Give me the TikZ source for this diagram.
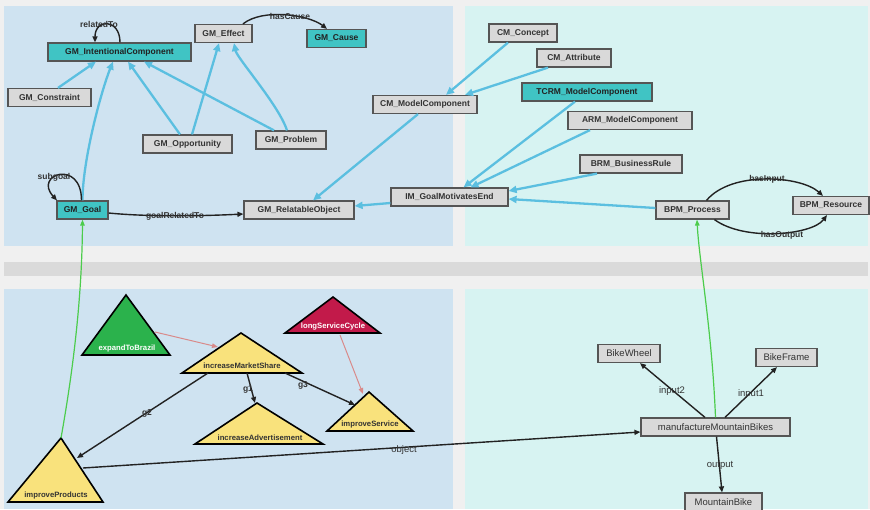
\documentclass[tikz,border=0pt]{standalone}
\usepackage{fontspec}
\setmainfont{Liberation Sans}
\usetikzlibrary{arrows.meta}
\definecolor{bgc}{HTML}{F0F0F0}
\definecolor{panelA}{HTML}{CFE3F1}
\definecolor{panelB}{HTML}{D7F3F2}
\definecolor{strip}{HTML}{DADADA}
\definecolor{grayfill}{HTML}{D9D9D9}
\definecolor{tealfill}{HTML}{40C4C4}
\definecolor{boxline}{HTML}{555555}
\definecolor{txt}{HTML}{333333}
\definecolor{bluel}{HTML}{5BBFE0}
\definecolor{greenl}{HTML}{4CCC4C}
\definecolor{pinkl}{HTML}{D98A8A}
\definecolor{yel}{HTML}{F9E27C}
\definecolor{grn}{HTML}{2BB24C}
\definecolor{crim}{HTML}{C21A4A}
\definecolor{blk}{HTML}{222222}
\begin{document}
\begin{tikzpicture}[x=1pt,y=-1pt,
 box/.style={draw=boxline, line width=1.2pt, fill=grayfill, minimum height=18pt, inner sep=1pt, font=\fontsize{8.5}{9}\selectfont\bfseries, text=txt},
 tbox/.style={box, fill=tealfill, text=blk},
 rbox/.style={box, font=\fontsize{9.5}{10}\selectfont},
 barrow/.style={draw=bluel, line width=2.3pt, -{Triangle[length=8pt,width=7pt]}},
 karrow/.style={draw=blk, line width=1.4pt, -{Triangle[length=6pt,width=5pt]}},
 garrow/.style={draw=greenl, line width=1.2pt, -{Triangle[length=6pt,width=4.5pt]}},
 parrow/.style={draw=pinkl, line width=1pt, -{Triangle[length=6pt,width=4.5pt]}},
 elabel/.style={font=\fontsize{8.5}{9}\selectfont\bfseries, text=txt, inner sep=0pt},
 rlabel/.style={font=\fontsize{9.5}{10}\selectfont, text=txt, inner sep=0pt},
 tri/.style={draw=black, line width=1.6pt, line join=miter},
 tlabel/.style={font=\fontsize{7.7}{8}\selectfont\bfseries, inner sep=0pt}]

\useasboundingbox (0,0) rectangle (870,509);
\fill[bgc] (0,0) rectangle (870,509);
\fill[panelA] (4,6) rectangle (453,246);
\fill[panelB] (465,6) rectangle (868,246);
\fill[strip] (4,262) rectangle (868,276);
\fill[panelA] (4,289) rectangle (453,509);
\fill[panelB] (465,289) rectangle (868,509);

% ---- top nodes
\node[tbox, minimum width=143pt] (ic) at (119.5,52) {GM\_IntentionalComponent};
\node[box, minimum width=57pt] (eff) at (223.5,33.5) {GM\_Effect};
\node[tbox, minimum width=59pt] (cause) at (336.5,38.5) {GM\_Cause};
\node[box, minimum width=83pt] (con) at (49.5,97.5) {GM\_Constraint};
\node[box, minimum width=89pt] (opp) at (187.5,144) {GM\_Opportunity};
\node[box, minimum width=70pt] (prob) at (291,140) {GM\_Problem};
\node[tbox, minimum width=51pt] (goal) at (82.5,210) {GM\_Goal};
\node[box, minimum width=110pt] (ro) at (299,210) {GM\_RelatableObject};
\node[box, minimum width=104pt] (cmmc) at (425,104.5) {CM\_ModelComponent};
\node[box, minimum width=68pt] (cmc) at (523,33) {CM\_Concept};
\node[box, minimum width=74pt] (cma) at (574,58) {CM\_Attribute};
\node[tbox, minimum width=130pt] (tcrm) at (587,92) {TCRM\_ModelComponent};
\node[box, minimum width=124pt] (arm) at (630,120.5) {ARM\_ModelComponent};
\node[box, minimum width=102pt] (brm) at (631,164) {BRM\_BusinessRule};
\node[box, minimum width=117pt] (im) at (449.5,197) {IM\_GoalMotivatesEnd};
\node[box, minimum width=73pt] (bpmp) at (692.5,210) {BPM\_Process};
\node[box, minimum width=76pt] (bpmr) at (831,205.5) {BPM\_Resource};

% ---- bottom right nodes
\node[rbox, minimum width=62pt] (bw) at (629,353.5) {BikeWheel};
\node[rbox, minimum width=61pt] (bf) at (786.5,357.5) {BikeFrame};
\node[rbox, minimum width=149pt] (mmb) at (715.5,427) {manufactureMountainBikes};
\node[rbox, minimum width=77pt] (mb) at (723.5,502) {MountainBike};

% ---- triangles
\draw[tri, fill=grn] (126,295) -- (170,355) -- (82,355) -- cycle;
\draw[tri, fill=yel] (241,333) -- (302,373) -- (182,373) -- cycle;
\draw[tri, fill=crim] (333,297) -- (380,333) -- (285,333) -- cycle;
\draw[tri, fill=yel] (369,392) -- (413,431) -- (327,431) -- cycle;
\draw[tri, fill=yel] (257,403) -- (323,444) -- (195,444) -- cycle;
\draw[tri, fill=yel] (61,438) -- (103,502) -- (8,502) -- cycle;
\node[tlabel, text=white] (ebl) at (127,349) {expandToBrazil};
\node[tlabel, text=txt] (imsl) at (242,366) {increaseMarketShare};
\node[tlabel, text=white] (lscl) at (333,327) {longServiceCycle};
\node[tlabel, text=txt] (isl) at (370,425) {improveService};
\node[tlabel, text=txt] (ial) at (260,438) {increaseAdvertisement};
\node[tlabel, text=txt] (ipl) at (56,496) {improveProducts};

\coordinate (eb-o) at (155,332);
\coordinate (ims-i) at (218,347);
\coordinate (lsc-o) at (340,335);
\coordinate (is-i) at (363,394);
\coordinate (ims-g2) at (208,373);
\coordinate (ims-g1) at (247,373);
\coordinate (ims-g3) at (285,373);
\coordinate (ip-i) at (77,458);
\coordinate (ia-i) at (255,403);
\coordinate (is-g3) at (355,405);
\coordinate (ip-o) at (83,468);
\coordinate (ip-apex) at (61,438);

% ---- blue arrows
\draw[barrow] ([xshift=8.5pt]con.north) -- ([xshift=-23.5pt]ic.south);
\draw[barrow] (goal.north) .. controls +(0,-40) and +(-12,30) .. ([xshift=-6.5pt]ic.south);
\draw[barrow] ([xshift=-7.5pt]opp.north) -- ([xshift=8.5pt]ic.south);
\draw[barrow] ([xshift=4.5pt]opp.north) -- ([xshift=-4.5pt]eff.south);
\draw[barrow] ([xshift=-17pt]prob.north) -- ([xshift=24.5pt]ic.south);
\draw[barrow] ([xshift=-4pt]prob.north) .. controls +(-8,-25) and +(3,15) .. ([xshift=10.5pt]eff.south);
\draw[barrow] ([xshift=-15pt]cmc.south) -- ([xshift=21pt]cmmc.north);
\draw[barrow] ([xshift=-26pt]cma.south) -- ([xshift=40pt]cmmc.north);
\draw[barrow] ([xshift=-7pt]cmmc.south) -- ([xshift=14pt]ro.north);
\draw[barrow] ([xshift=-12pt]tcrm.south) -- ([xshift=14pt]im.north);
\draw[barrow] ([xshift=-40pt]arm.south) -- ([xshift=21pt]im.north);
\draw[barrow] ([xshift=-34pt]brm.south) -- ([yshift=6pt]im.east);
\draw[barrow] ([yshift=2pt]bpmp.west) -- ([yshift=-2pt]im.east);
\draw[barrow] ([yshift=-6pt]im.west) -- ([yshift=4pt]ro.east);

% ---- black arrows top
\draw[karrow] ([xshift=0.5pt]ic.north) .. controls +(0,-24) and +(0,-24) .. ([xshift=-24.5pt]ic.north);
\node[elabel] (lrel) at (99,24) {relatedTo};
\draw[karrow] ([xshift=19.5pt]eff.north) .. controls +(20,-16) and +(-18,-14) .. ([xshift=-9.5pt]cause.north);
\node[elabel] (lcause) at (290,16) {hasCause};
\draw[karrow] ([xshift=-1pt]goal.north) .. controls +(0,-42) and +(-24,-26) .. ([xshift=-25.5pt]goal.north);
\node[elabel] (lsub) at (54,177) {subgoal};
\draw[karrow] ([yshift=-3pt]goal.east) .. controls +(40,4) and +(-40,2) .. ([yshift=-4pt]ro.west);
\node[elabel] (lgrt) at (175,216) {goalRelatedTo};
\draw[karrow] ([xshift=14pt]bpmp.north) .. controls +(25,-30) and +(-22,-20) .. ([xshift=-8pt]bpmr.north);
\node[elabel] (lin) at (767,179) {hasInput};
\draw[karrow] ([xshift=22pt]bpmp.south) .. controls +(30,22) and +(-15,20) .. ([xshift=-4pt]bpmr.south);
\node[elabel] (lout) at (782,235) {hasOutput};

% ---- bottom
\draw[parrow] (eb-o) -- (ims-i);
\draw[parrow] (lsc-o) -- (is-i);
\draw[karrow] (ims-g2) -- (ip-i);
\node[elabel] (lg2) at (147,413) {g2};
\draw[karrow] (ims-g1) -- (ia-i);
\node[elabel] (lg1) at (248,389) {g1};
\draw[karrow] (ims-g3) -- (is-g3);
\node[elabel] (lg3) at (303,385) {g3};
\draw[karrow] (ip-o) -- ([yshift=-5pt]mmb.west);
\node[rlabel] (lobj) at (404,450) {object};
\draw[karrow] ([xshift=-10.5pt]mmb.north) -- ([xshift=11pt]bw.south);
\node[rlabel] (lin2) at (672,391) {input2};
\draw[karrow] ([xshift=9.5pt]mmb.north) -- ([xshift=-9.5pt]bf.south);
\node[rlabel] (lin1) at (751,394) {input1};
\draw[karrow] ([xshift=1pt]mmb.south) -- ([xshift=-1.5pt]mb.north);
\node[rlabel] (lop) at (720,465) {output};

% ---- green
\draw[garrow] (ip-apex) .. controls (75,360) and (82,290) .. (goal.south);
\draw[garrow] (mmb.north) .. controls (712,330) and (699,260) .. ([xshift=4.5pt]bpmp.south);
\end{tikzpicture}
\end{document}
